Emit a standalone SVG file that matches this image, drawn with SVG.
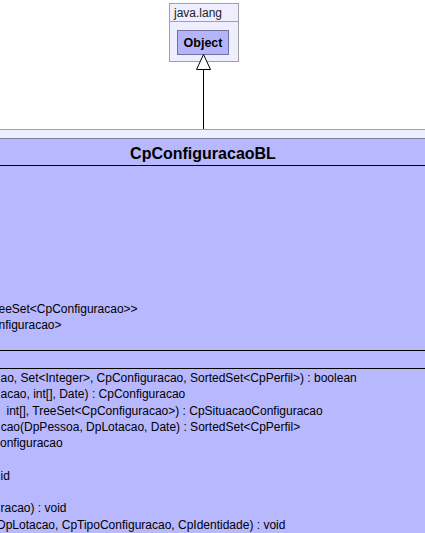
<svg xmlns="http://www.w3.org/2000/svg" width="425" height="533" viewBox="0 0 425 533">
<style>
.t{font-family:"Liberation Sans",Arial,sans-serif;font-size:12px;fill:#000}
.pk{fill:#eeeeff;stroke:#a0a0a0;stroke-width:1}
.sep{stroke:#000;stroke-width:1}
</style>
<rect width="425" height="533" fill="#ffffff"/>
<g id="pkg-java-lang">
<rect class="pk" x="169.5" y="3.5" width="69" height="58"/>
<line x1="169.5" y1="21.5" x2="238.5" y2="21.5" stroke="#a0a0a0"/>
<text class="t" x="174" y="16.5" style="font-size:12px;fill:#222">java.lang</text>
</g>
<g id="node-Object">
<rect x="177.5" y="30.5" width="51" height="24" fill="#b4b4fa" stroke="#7070a0"/>
<text class="t" x="203" y="47" text-anchor="middle" style="font-weight:bold;font-size:12.5px">Object</text>
</g>
<g id="connectors">
<line x1="203.5" y1="69" x2="203.5" y2="138" stroke="#000"/>
<polygon points="203.5,54.5 196.5,69.5 210.5,69.5" fill="#ffffff" stroke="#000"/>
</g>
<g id="node-CpConfiguracaoBL">
<rect class="pk" x="-5" y="129.5" width="440" height="420" stroke="#999999"/>
<rect x="-5" y="138.5" width="440" height="420" fill="#b8b8ff" stroke="#8080a0"/>
<text class="t" x="203" y="159" text-anchor="middle" style="font-weight:bold;font-size:16px">CpConfiguracaoBL</text>
<line class="sep" x1="-5" y1="165.5" x2="430" y2="165.5"/>
<text class="t" x="-1.5" y="313">eeSet&lt;CpConfiguracao&gt;&gt;</text>
<text class="t" x="-1.5" y="329">nfiguracao&gt;</text>
<line class="sep" x1="-5" y1="350.5" x2="430" y2="350.5"/>
<line class="sep" x1="-5" y1="368.5" x2="430" y2="368.5"/>
<text class="t" x="0.5" y="382">ao, Set&lt;Integer&gt;, CpConfiguracao, SortedSet&lt;CpPerfil&gt;) : boolean</text>
<text class="t" x="0.5" y="398.3">acao, int[], Date) : CpConfiguracao</text>
<text class="t" x="6.5" y="414.6">int[], TreeSet&lt;CpConfiguracao&gt;) : CpSituacaoConfiguracao</text>
<text class="t" x="0.7" y="430.9">cao(DpPessoa, DpLotacao, Date) : SortedSet&lt;CpPerfil&gt;</text>
<text class="t" x="0" y="447.2">onfiguracao</text>
<text class="t" x="0.5" y="479.8">id</text>
<text class="t" x="0.5" y="512.4">racao) : void</text>
<text class="t" x="-3" y="528.7">DpLotacao, CpTipoConfiguracao, CpIdentidade) : void</text>
</g>
</svg>
